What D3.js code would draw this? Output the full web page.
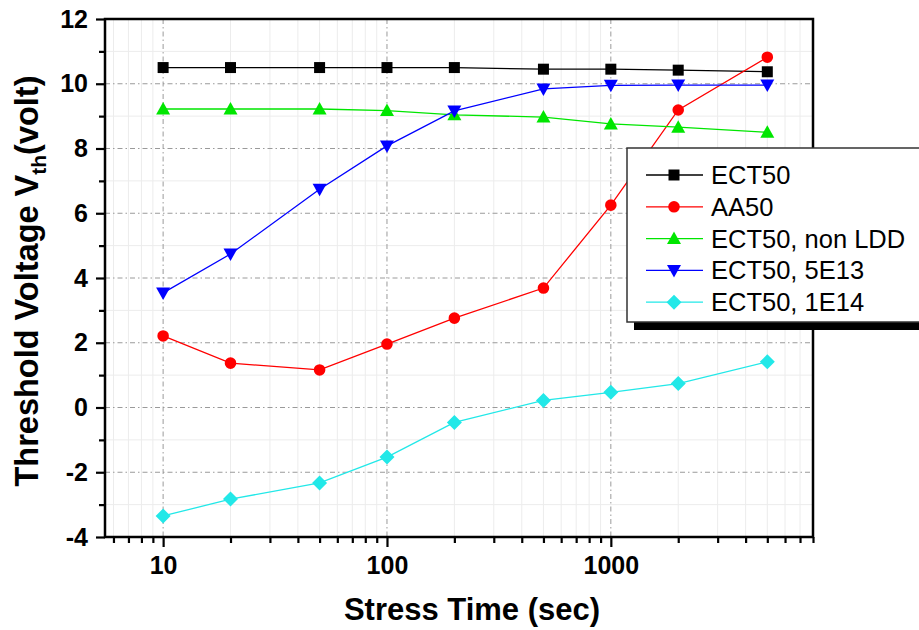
<!DOCTYPE html>
<html>
<head>
<meta charset="utf-8">
<script src="https://cdn.jsdelivr.net/npm/d3@7"></script>
<style>
  body { margin: 0; background: #fff; }
  text { font-family: "Liberation Sans", Arial, sans-serif; }
</style>
</head>
<body>
<svg id="chart" width="919" height="630"></svg>
<script>
// stress times (sec)
var times = [10, 20, 50, 100, 200, 500, 1000, 2000, 5000];

// threshold voltage per sample
var ect50      = [10.5, 10.5, 10.5, 10.5, 10.5, 10.45, 10.45, 10.42, 10.37];
var aa50       = [2.21, 1.37, 1.16, 1.96, 2.76, 3.69, 6.25, 9.19, 10.82];
var ect50NoLdd = [9.22, 9.22, 9.22, 9.17, 9.04, 8.97, 8.76, 8.66, 8.5];
var ect50_5e13 = [3.54, 4.74, 6.74, 8.08, 9.16, 9.84, 9.95, 9.96, 9.96];
var ect50_1e14 = [-3.35, -2.83, -2.33, -1.53, -0.46, 0.22, 0.47, 0.74, 1.41];

var seriesNames = ["ECT50", "AA50", "ECT50, non LDD", "ECT50, 5E13", "ECT50, 1E14"];
var seriesValues = [ect50, aa50, ect50NoLdd, ect50_5e13, ect50_1e14];
var seriesColors = ["#000000", "#ff0000", "#00e600", "#0000ff", "#22e8e8"];
var seriesMarkers = ["square", "circle", "triUp", "triDown", "diamond"];

var yTicks = [-4, -2, 0, 2, 4, 6, 8, 10, 12];
var xTicks = [10, 100, 1000];

var svg = d3.select("#chart");
var pL = 105, pT = 19, pR = 813, pB = 537;

var x = d3.scaleLog().domain([5.5, 8000]).range([pL, pR]);
var y = d3.scaleLinear().domain([-4, 12]).range([pB, pT]);

// minor x positions
var minorX = [];
[1, 10, 100, 1000].forEach(function(dec) {
  for (var k = 2; k <= 9; k++) {
    var v = dec * k;
    if (v >= 5.5 && v <= 8000) minorX.push(v);
  }
});
var minorY = d3.range(-3, 12, 2);

var grid = svg.append("g");
grid.selectAll(".mx").data(minorX).enter().append("line")
  .attr("x1", d => x(d)).attr("x2", d => x(d))
  .attr("y1", pT).attr("y2", pB)
  .style("stroke", "#ececec").style("stroke-width", 1);
grid.selectAll(".my").data(minorY).enter().append("line")
  .attr("x1", pL).attr("x2", pR)
  .attr("y1", d => y(d)).attr("y2", d => y(d))
  .style("stroke", "#ececec").style("stroke-width", 1);
// major grid, dash dot
grid.selectAll(".gx").data(xTicks).enter().append("line")
  .attr("x1", d => x(d)).attr("x2", d => x(d))
  .attr("y1", pT).attr("y2", pB)
  .style("stroke", "#9a9a9a").style("stroke-width", 1)
  .style("stroke-dasharray", "5,3,1.5,3");
grid.selectAll(".gy").data(yTicks.filter(d => d > -4 && d < 12)).enter().append("line")
  .attr("x1", pL).attr("x2", pR)
  .attr("y1", d => y(d)).attr("y2", d => y(d))
  .style("stroke", "#9a9a9a").style("stroke-width", 1)
  .style("stroke-dasharray", "5,3,1.5,3");

// axes (plain hyphen for negatives)
var fmt = d => String(d);
var yAxis = d3.axisLeft(y).tickValues(yTicks).tickSize(9).tickPadding(8).tickFormat(fmt);
var yMinor = d3.axisLeft(y).tickValues(minorY).tickSize(6).tickFormat("");
var xAxis = d3.axisBottom(x).tickValues(xTicks).tickSize(10).tickPadding(9).tickFormat(fmt);
var xMinor = d3.axisBottom(x).tickValues(minorX).tickSize(6).tickFormat("");

function styleAxis(g) {
  g.select(".domain").remove();
  g.selectAll(".tick line").style("stroke", "#000").style("stroke-width", 2.2);
  g.selectAll("text").style("font-size", "25px").style("font-weight", "bold").attr("fill", "#000");
}
svg.append("g").attr("transform", "translate(" + pL + ",0)").call(yAxis).call(styleAxis);
svg.append("g").attr("transform", "translate(" + pL + ",0)").call(yMinor).call(styleAxis);
svg.append("g").attr("transform", "translate(0," + pB + ")").call(xAxis).call(styleAxis);
svg.append("g").attr("transform", "translate(0," + pB + ")").call(xMinor).call(styleAxis);

// frame
svg.append("rect")
  .attr("x", pL).attr("y", pT)
  .attr("width", pR - pL).attr("height", pB - pT)
  .style("fill", "none").style("stroke", "#000").style("stroke-width", 2.5);

// marker shapes
function markerPath(kind) {
  if (kind == "square") return "M-5.5,-5.5H5.5V5.5H-5.5Z";
  if (kind == "circle") return d3.symbol().type(d3.symbolCircle).size(105)();
  if (kind == "triUp") return "M0,-7L7,5.5H-7Z";
  if (kind == "triDown") return "M0,7L7,-5.5H-7Z";
  return "M0,-7.5L7.5,0L0,7.5L-7.5,0Z";
}

var line = d3.line().x(d => x(d[0])).y(d => y(d[1]));

seriesValues.forEach(function(vals, i) {
  var pts = times.map((t, j) => [t, vals[j]]);
  var g = svg.append("g");
  g.append("path").datum(pts)
    .attr("d", line)
    .style("fill", "none")
    .style("stroke", seriesColors[i])
    .style("stroke-width", 1.3);
  g.selectAll("path.m").data(pts).enter().append("path")
    .attr("class", "m")
    .attr("d", markerPath(seriesMarkers[i]))
    .attr("transform", d => "translate(" + x(d[0]) + "," + y(d[1]) + ")")
    .style("fill", seriesColors[i]);
});

// legend with shadow
var leg = svg.append("g");
leg.append("rect").attr("x", 634).attr("y", 156).attr("width", 300).attr("height", 174).style("fill", "#000");
leg.append("rect").attr("x", 627).attr("y", 148).attr("width", 300).attr("height", 174)
  .style("fill", "#fff").style("stroke", "#333").style("stroke-width", 1.5);
var rows = leg.selectAll(".row").data(seriesNames).enter().append("g")
  .attr("transform", (d, i) => "translate(0," + (175 + i * 31.8) + ")");
rows.append("line").attr("x1", 646).attr("x2", 703).attr("y1", 0).attr("y2", 0)
  .style("stroke", (d, i) => seriesColors[i]).style("stroke-width", 1.3);
rows.append("path").attr("d", (d, i) => markerPath(seriesMarkers[i]))
  .attr("transform", "translate(674,0)")
  .style("fill", (d, i) => seriesColors[i]);
rows.append("text").attr("x", 711).attr("y", 9)
  .style("font-size", "25.5px").attr("fill", "#000")
  .text(d => d);

// axis titles
svg.append("text")
  .attr("x", 472).attr("y", 620)
  .attr("text-anchor", "middle")
  .style("font-size", "31px").style("font-weight", "bold")
  .text("Stress Time (sec)");

var yt = svg.append("text")
  .attr("transform", "translate(38,281) rotate(-90)")
  .attr("text-anchor", "middle")
  .style("font-size", "32.5px").style("font-weight", "bold");
yt.append("tspan").text("Threshold Voltage V");
yt.append("tspan").attr("dy", 8).style("font-size", "21px").text("th");
yt.append("tspan").attr("dy", -8).text("(volt)");
</script>
</body>
</html>
